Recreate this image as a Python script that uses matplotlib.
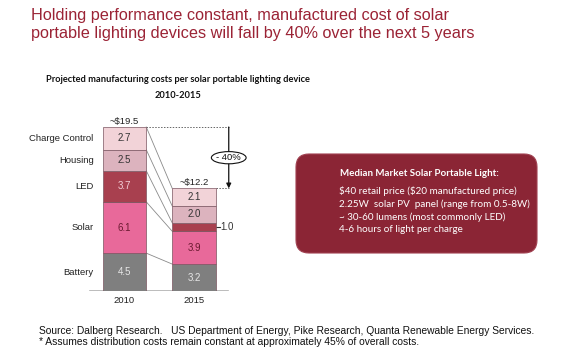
import numpy as np
import matplotlib
matplotlib.use("Agg")
import matplotlib.pyplot as plt
from matplotlib.patches import Ellipse, FancyBboxPatch

years = ["2010", "2015"]
components = ["Battery", "Solar", "LED", "Housing", "Charge Control"]
costs_2010 = [4.5, 6.1, 3.7, 2.5, 2.7]
costs_2015 = [3.2, 3.9, 1.0, 2.0, 2.1]
totals = ["~$19.5", "~$12.2"]
drop_label = "- 40%"

colors = ["#7f7f7f", "#e8699a", "#a8404f", "#dcb3be", "#f2d3d8"]
text_colors = ["#e6e6e6", "#6a1a30", "#f4d0d8", "#333333", "#333333"]

title = ("Holding performance constant, manufactured cost of solar\n"
         "portable lighting devices will fall by 40% over the next 5 years")
subtitle = "Projected manufacturing costs per solar portable lighting device"
subtitle2 = "2010-2015"
box_title = "Median Market Solar Portable Light:"
box_lines = [r"\$40 retail price (\$20 manufactured price)",
             "2.25W  solar PV  panel (range from 0.5-8W)",
             "~ 30-60 lumens (most commonly LED)",
             "4-6 hours of light per charge"]
footer = ["Source: Dalberg Research.   US Department of Energy, Pike Research, Quanta Renewable Energy Services.",
          "* Assumes distribution costs remain constant at approximately 45% of overall costs."]

W, H = 577, 356
ARIAL = "Liberation Sans"
CALIBRI = "Lato"


def fx(x):
    return x / W


def fy(y):
    return 1 - y / H


fig = plt.figure(figsize=(W / 100, H / 100), dpi=100)

# background layer in pixel units for the info box
bg = fig.add_axes([0, 0, 1, 1])
bg.set_xlim(0, W)
bg.set_ylim(H, 0)
bg.axis("off")
bg.add_patch(FancyBboxPatch((296, 154), 241, 99,
                            boxstyle="round,pad=0,rounding_size=13",
                            facecolor="#8b2535", edgecolor="#a04050", lw=0.8))

# axes placed so bars land where they are in the original
ax = fig.add_axes([fx(60), fy(291), 200 / W, 181 / H])
ax.patch.set_alpha(0)
px_per_x = 69.5
x0 = 124.5
ax.set_xlim((60 - x0) / px_per_x, (260 - x0) / px_per_x)
ax.set_ylim(0, 181 / 8.41)
ax.axis("off")

width = 0.626
pos = np.arange(len(years))
data = np.array([costs_2010, costs_2015])
bottoms = np.zeros(len(years))
for i, comp in enumerate(components):
    vals = data[:, i]
    ax.bar(pos, vals, width, bottom=bottoms, color=colors[i],
           edgecolor="#7a5560", linewidth=0.5, zorder=3)
    for j in range(len(years)):
        if vals[j] >= 1.5:
            ax.text(pos[j], bottoms[j] + vals[j] / 2, f"{vals[j]:.1f}",
                    ha="center", va="center", fontsize=7, family=ARIAL,
                    color=text_colors[i], zorder=4)
    ax.text(pos[0] - width / 2 - 0.13, bottoms[0] + vals[0] / 2, comp,
            ha="right", va="center", fontsize=6.8, family=ARIAL, color="#222222")
    bottoms = bottoms + vals

# small value label with tick line (LED 2015)
led_mid = costs_2015[0] + costs_2015[1] + costs_2015[2] / 2
ax.plot([pos[1] + width / 2, pos[1] + width / 2 + 0.06], [led_mid, led_mid],
        color="#333333", lw=0.8)
ax.text(pos[1] + width / 2 + 0.07, led_mid, f"{costs_2015[2]:.1f}",
        ha="left", va="center", fontsize=7, family=ARIAL, color="#333333")

# connector lines between segment boundaries
cum10 = np.cumsum(costs_2010)
cum15 = np.cumsum(costs_2015)
for a, b in zip(cum10, cum15):
    ax.plot([pos[0] + width / 2, pos[1] - width / 2], [a, b],
            color="#8a8a8a", lw=0.6, zorder=2)

# baseline
ax.plot([-0.5, 1.49], [0, 0], color="#b0b0b0", lw=1.2, zorder=2)
for j, yr in enumerate(years):
    ax.text(pos[j], -0.55, yr, ha="center", va="top", fontsize=6.8,
            family=ARIAL, color="#222222")

# totals
for j in range(len(years)):
    ax.text(pos[j], bottoms[j] + 0.15, totals[j], ha="center", va="bottom",
            fontsize=6.8, family=ARIAL, color="#222222")

# dotted guides + arrow
xa = 1.5
ax.plot([pos[0] + width / 2, xa], [cum10[-1], cum10[-1]], color="#666666",
        lw=0.7, ls=(0, (1.5, 1.5)))
ax.plot([pos[1] + width / 2, xa], [cum15[-1], cum15[-1]], color="#666666",
        lw=0.7, ls=(0, (1.5, 1.5)))
ax.annotate("", xy=(xa, cum15[-1]), xytext=(xa, cum10[-1]),
            arrowprops=dict(arrowstyle="-|>", color="#111111", lw=0.9,
                            mutation_scale=7, shrinkA=0, shrinkB=0))
mid = (cum10[-1] + cum15[-1]) / 2
ax.add_patch(Ellipse((xa, mid), 0.5, 1.45, facecolor="white",
                     edgecolor="#111111", lw=0.8, zorder=5))
ax.text(xa, mid, drop_label, ha="center", va="center", fontsize=6.8,
        family=ARIAL, color="#111111", zorder=6)

# headline
fig.text(fx(31), fy(24.5), title, ha="left", va="center", fontsize=11.7,
         family=ARIAL, color="#9b2335", linespacing=1.25)
fig.text(fx(178), fy(80), subtitle, ha="center", va="center", fontsize=6.65,
         family=CALIBRI, weight="bold", color="#111111")
fig.text(fx(178), fy(96), subtitle2, ha="center", va="center", fontsize=6.65,
         family=CALIBRI, weight="bold", color="#111111")

# info box text
fig.text(fx(340), fy(173), box_title, ha="left", va="center", fontsize=7,
         family=CALIBRI, weight="bold", color="white")
for line, y in zip(box_lines, [191.5, 204.5, 217, 230]):
    fig.text(fx(339), fy(y), line, ha="left", va="center", fontsize=7.1,
             family=CALIBRI, color="white")

fig.text(fx(39), fy(331), footer[0], ha="left", va="center", fontsize=7.4,
         family=ARIAL, color="#111111")
fig.text(fx(39), fy(342), footer[1], ha="left", va="center", fontsize=7.4,
         family=ARIAL, color="#111111")

fig.savefig("out.png", dpi=100, facecolor="white")
